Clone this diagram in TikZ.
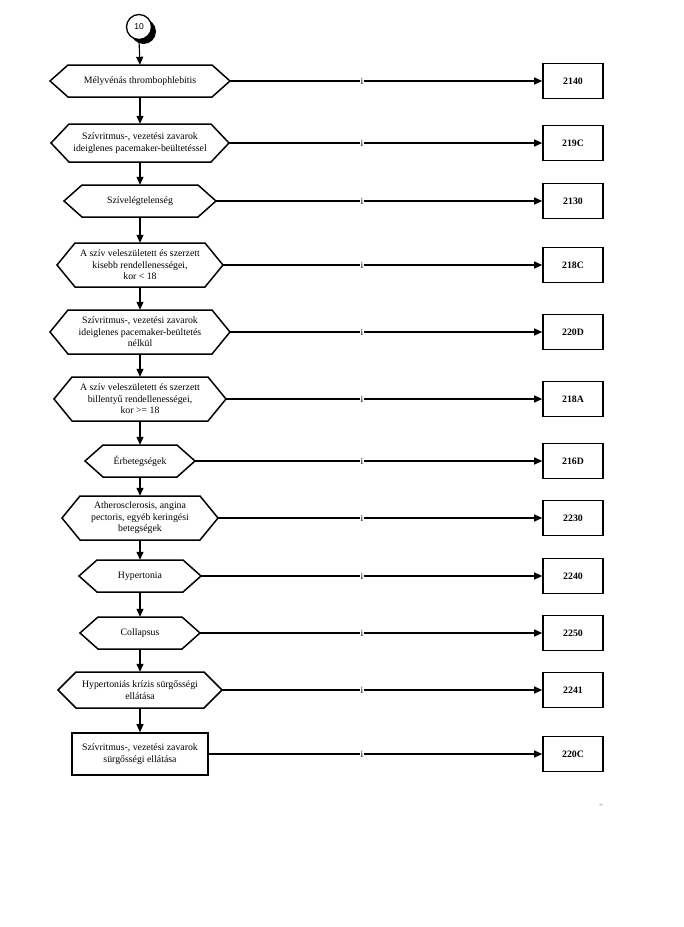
\documentclass[tikz,border=0pt]{standalone}
\usepackage{fontspec}
\setmainfont{Liberation Serif}
\newfontfamily\circfont{Liberation Sans}
\usetikzlibrary{arrows.meta}
\newcommand\hexn[5]{%
  \node[hexbox, minimum width={2*#3pt}, minimum height={2*#4pt}] (#1) at (140,#2) {#5};
  \draw[hexline] (140-#3,#2) -- (140-#3+18,#2-#4) -- (140+#3-18,#2-#4) -- (140+#3,#2)
     -- (140+#3-18,#2+#4) -- (140-#3+18,#2+#4) -- cycle;
}
\newcommand\coden[3]{%
  \node[codebox] (#1) at (573,#2) {#3};
}
\begin{document}
\begin{tikzpicture}[x=1pt,y=-1pt,
  hexbox/.style={draw=none, rectangle, inner sep=0pt, align=center,
     font=\fontsize{9.8}{11.5}\selectfont},
  hexline/.style={line width=1.5pt, line join=miter},
  codebox/.style={draw, line width=1.6pt, minimum width=60pt, minimum height=35pt,
     inner sep=0pt, font=\bfseries\fontsize{9.8}{11}\selectfont},
  link/.style={line width=1.1pt, -{Triangle[length=8pt,width=7pt]}},
  lbl/.style={fill=white, inner sep=1pt, font=\fontsize{9.5}{10}\selectfont}]
\useasboundingbox (0,0) rectangle (684,927);

% start connector
\fill (143.5,31.5) circle (12.5);
\node[circle, draw, fill=white, line width=1.3pt, minimum size=25pt, inner sep=0pt,
  font=\circfont\fontsize{8.5}{9}\selectfont] (c) at (139,27) {10};

\hexn{h1}{81}{90}{16}{Mélyvénás thrombophlebitis}
\hexn{h2}{143}{89}{19}{Szívritmus-, vezetési zavarok\\ideiglenes pacemaker-beültetéssel}
\hexn{h3}{201}{76}{16}{Szívelégtelenség}
\hexn{h4}{265}{83}{22}{A szív veleszületett és szerzett\\kisebb rendellenességei,\\kor < 18}
\hexn{h5}{332}{90}{22}{Szívritmus-, vezetési zavarok\\ideiglenes pacemaker-beültetés\\nélkül}
\hexn{h6}{399}{86}{22}{A szív veleszületett és szerzett\\billentyű rendellenességei,\\kor >= 18}
\hexn{h7}{461}{55}{16}{Érbetegségek}
\hexn{h8}{518}{78}{22}{Atherosclerosis, angina\\pectoris, egyéb keringési\\betegségek}
\hexn{h9}{576}{61}{16}{Hypertonia}
\hexn{h10}{633}{60}{16}{Collapsus}
\hexn{h11}{690}{82}{18}{Hypertoniás krízis sürgősségi\\ellátása}
\node[draw, line width=1.6pt, minimum width=136pt, minimum height=42pt, inner sep=0pt,
  align=center, font=\fontsize{9.8}{11.5}\selectfont] (h12) at (140,754)
  {Szívritmus-, vezetési zavarok\\sürgősségi ellátása};

\coden{b1}{81}{2140}
\coden{b2}{143}{219C}
\coden{b3}{201}{2130}
\coden{b4}{265}{218C}
\coden{b5}{332}{220D}
\coden{b6}{399}{218A}
\coden{b7}{461}{216D}
\coden{b8}{518}{2230}
\coden{b9}{576}{2240}
\coden{b10}{633}{2250}
\coden{b11}{690}{2241}
\coden{b12}{754}{220C}

% vertical chain
\draw[link] (c.south) -- (h1.north);
\foreach \a/\b in {h1/h2,h2/h3,h3/h4,h4/h5,h5/h6,h6/h7,h7/h8,h8/h9,h9/h10,h10/h11,h11/h12}
  \draw[link] (\a.south) -- (\b.north);

% horizontal links
\foreach \n/\y in {1/81,2/143,3/201,4/265,5/332,6/399,7/461,8/518,9/576,10/633,11/690,12/754}{
  \draw[link] (h\n.east) -- (b\n.west);
  \node[lbl] (i\n) at (362,\y) {i};
}

\node[text=gray, inner sep=0pt, font=\fontsize{8}{8}\selectfont] (mark) at (601,807) {''};
\end{tikzpicture}
\end{document}
